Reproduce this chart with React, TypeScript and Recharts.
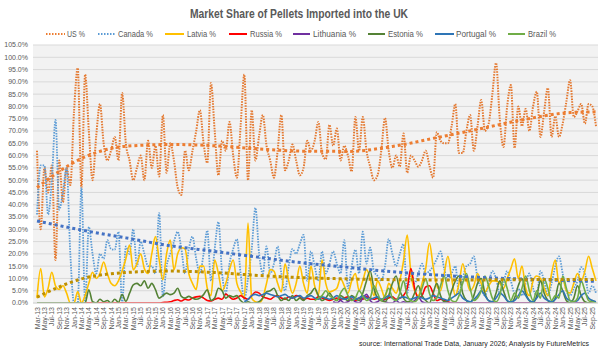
import React from 'react';
import { ComposedChart, Line, XAxis, YAxis, CartesianGrid } from 'recharts';

const _ = null;

// monthly market share (%), Mar-13 .. Oct-25
const us = [
	62, 30, 55, 45, 56, 17.5, 58, 41, 55, 48, 78, 95.6,
	47, 93, 70, 50, 68, 81, 65, 58, 62, 67.6, 58, 85.5,
	65, 58, 50, 55, 60, 50, 66, 55, 64, 51.5, 76.5, 53,
	65, 58, 47, 44, 62, 54, 62, 70, 78.5, 65, 57, 89.5,
	70, 52, 66, 62, 73.7, 60, 51, 72, 93, 50, 78.5, 58,
	68, 76.5, 64, 58, 51, 62, 76.5, 54, 58, 64.5, 58, 52,
	55, 66, 62, 66, 73.7, 61, 58.5, 72.5, 64, 71, 58, 64,
	60, 53.5, 75.7, 62, 75.7, 62, 55.5, 50, 52, 62, 75.3, 62,
	55, 60, 55.5, 69, 53, 60, 58, 55.5, 58, 62, 56, 51,
	69.5, 66, 65, 65, 72, 81, 61, 61, 70, 76.5, 62, 72,
	82.6, 70, 73, 85, 97.7, 75, 63.5, 80, 88.7, 63, 80, 72,
	79, 70, 80, 86, 67.6, 78, 87.5, 67.6, 76, 67.6, 73, 82,
	90.7, 75.7, 78, 81, 73, 81, 80, 72,
];

const canada = [
	36, 56, 56, 36, 50, 74.5, 38, 45, 55, 20, 0, 0,
	47, 0, 31, 20, 12, 20, 18, 25.6, 22, 21.7, 29, 0,
	23, 20, 30, 15, 25, 20, 15, 15, 12, 36.6, 2.7, 15,
	20, 25, 29, 22, 12, 22, 27, 18, 12, 20, 29.5, 9,
	22, 33, 12, 4, 16, 22, 26, 12, 1.5, 10, 22, 38.7,
	20, 12, 23, 12, 16, 23, 12, 5, 15, 22, 20, 24,
	27.7, 9, 21, 15, 9, 21, 12, 16, 21, 16, 12, 25.6,
	6, 15, 21.7, 12, 29, 16, 22.5, 13, 11, 9, 15, 26,
	20, 15, 20, 24, 4, 12, 8, 12, 16, 12, 13, 15,
	18, 21, 14, 9, 12, 15, 4, 10, 15, 16, 19, 10,
	6, 3, 8, 13, 10, 4, 8, 13, 9, 4, 6, 3,
	8, 12, 6, 3, 13, 9, 3, 8, 15, 19, 12, 5,
	3, 6, 9, 14.6, 12, 4, 7, 4,
];

const latvia = [
	2, 14, 2.5, 6, 12.5, 7, 5.5, 7, 4, 0, 0, 4.7,
	0, 3, 8, 12.5, 10, 12, 16.7, 12, 8, 7, 9, 13,
	18, 23.6, 13.5, 16, 20, 14, 12, 20, 27, 17.6, 9.5, 20,
	25.6, 13.5, 20, 22.5, 22, 12, 8, 5.5, 15, 15, 6, 3,
	17.5, 12, 5, 8, 13.6, 17.5, 8, 4.5, 2, 32.5, 2, 0.5,
	0, 2, 8, 13.6, 13, 8, 4.5, 16, 9, 4, 8, 15,
	8, 4, 15, 7, 3, 17.5, 8, 4.5, 5, 6, 10, 7,
	4, 9, 12, 5, 9, 13.6, 10, 3, 9, 6, 2, 8,
	6, 4, 9, 17, 27.7, 12, 5, 3, 8, 14, 24.4, 15,
	7, 5, 12, 19, 10, 3, 8, 16, 10, 5, 7, 12,
	8, 4.5, 7, 9, 9, 8, 6, 10, 14, 18, 10, 15,
	6, 3, 9, 11, 10, 6, 3, 12, 17.5, 8, 10, 5,
	4, 8, 12, 9, 13, 19, 14, 9,
];

const russia = [
	_, _, _, _, _, _, _, _, _, _, _, _,
	_, 0, 0, 0, 0, 0, 0, 0, 0, 0, 0, 0,
	0, 0, 0, 0, 0, 0, 0, 0, 0, 0, 0.2, 0.3,
	0.5, 1, 1.3, 0.8, 1.5, 1.2, 2, 2.5, 2.7, 2, 1, 0.8,
	1.5, 2, 1.5, 3.6, 2.5, 1.5, 2, 3, 2, 1.5, 3, 4.5,
	4, 2.5, 2, 1.5, 2.5, 3, 2, 1.5, 2.5, 2, 3, 2.5,
	1.5, 2, 1.5, 1.5, 2.5, 2, 1.5, 1, 1.5, 2, 1.5, 2,
	2.5, 1.5, 1, 2, 1.5, 2.5, 2, 1.5, 2, 1, 1.5, 2,
	2.5, 1.5, 2, 3, 6, 14, 6, 2, 3, 6.5, 7, 4,
	1, 1.5, 1, 0.5, 0, 0, 0, 0, 0, 0, 0, 0,
	0, 0, 0, 0, 0, 0, 0, 0, 0, 0, 0, 0,
	0, 0, 0, 0, 0, 0, 0, 0, 0, 0, 0, 0,
	0, 0, 0, 0, 0, 0, 0, 0,
];

const lithuania = [
	_, _, _, _, _, _, _, _, _, _, _, _,
	_, _, _, _, _, _, _, _, _, _, _, _,
	_, _, _, _, _, _, _, _, _, _, _, _,
	_, _, _, _, _, _, _, _, _, _, _, _,
	_, _, _, _, _, _, _, _, _, _, _, _,
	_, _, _, _, _, _, _, _, _, _, _, _,
	_, _, _, _, _, _, _, _, 0.5, 0, 1, 0,
	0.5, 1.5, 0.5, 0, 2, 3.5, 1, 0, 0.5, 1.5, 0.5, 0,
	0, 1, 0, 0.5, 0, 0, 1, 2.5, 0.5, 0, 0, 0,
	0, 0, 0, 0, 0, 0, 0, 0, 0, 0, 0, 0,
	0, 0, 0, 0, 0, 0, 0, 0, 0, 0, 0, 0,
	0, 0, 0, 0, 0, 0, 0, 0, 0, 0, 0, 0,
	0, 0, 0, 0, 0, 0, 0, 0,
];

const estonia = [
	0, 0, 0, 0, 0, 0, 0, 0, 0, 0, 0, 0,
	0, 0, 5.4, 0.5, 0, 1.5, 0.5, 1, 0, 1.5, 0.3, 3.4,
	0.7, 4, 7.4, 8, 7, 9, 6, 8, 5.4, 2, 3, 4,
	3.4, 4, 6, 2.7, 2, 2.7, 2, 1.5, 2, 3.4, 5.4, 1,
	2, 6, 5, 2, 3, 2.5, 3, 1, 0, 0.5, 0, 0,
	0.5, 2, 4.5, 5, 6, 3, 1, 2, 1, 3, 1, 2,
	1, 3, 4, 6, 3, 1, 2, 4, 2, 1, 3, 2,
	1, 3, 2, 1, 4, 9, 13, 6, 2, 1, 0.5, 3,
	8, 11, 5, 2, 0.5, 1, 4, 7, 3, 1, 0, 4,
	8, 3, 0.5, 1, 5, 9, 11, 4, 1, 0, 3, 8,
	10, 4, 1, 0.5, 4, 9, 5, 1, 0, 2, 7, 10,
	4, 1, 0, 3, 9, 4, 1, 0, 2, 8, 5, 1,
	0, 2, 7, 3, 0.5, 0, 1, 0,
];

const portugal = [
	_, _, _, _, _, _, _, _, _, _, _, _,
	_, _, _, _, _, _, _, _, _, _, _, _,
	_, _, _, _, _, _, _, _, _, _, _, _,
	_, _, _, _, _, _, _, _, _, _, _, _,
	_, _, _, _, _, _, _, _, 0.5, 1.5, 3, 3.5,
	3, 3.5, 4, 3.5, 3, 2.5, 3, 3.5, 2.5, 2, 2.5, 3,
	2, 2.5, 3, 2, 1.5, 2.5, 2, 1.5, 2, 3, 2, 1.5,
	2, 2.5, 1.5, 2, 3, 2, 1.5, 2, 2.5, 1.5, 2, 3,
	2, 1, 2, 2.5, 2, 1.5, 2, 2.5, 2, 1.5, 2, 3,
	2.5, 2, 1.5, 1, 2, 3, 4, 2, 1, 0.5, 1.5, 3,
	5, 3, 1, 0.5, 2, 4, 3, 1, 0.5, 1, 3, 5,
	3, 1, 0.5, 2, 4, 2, 1, 0.5, 1.5, 3.5, 5, 2,
	1, 0.5, 1, 3, 4, 2, 1, 0.5,
];

const brazil = [
	_, _, _, _, _, _, _, _, _, _, _, _,
	_, _, _, _, _, _, _, _, _, _, _, _,
	_, _, _, _, _, _, _, _, _, _, _, _,
	_, _, _, _, _, _, _, _, _, _, _, _,
	_, _, _, _, _, _, _, _, _, _, _, _,
	_, _, _, _, _, _, _, _, _, _, _, _,
	_, _, _, 1, 2, 3, 5, 3, 2, 1, 4, 6,
	3, 1, 2, 5, 3, 1, 2, 7, 4, 1, 3, 6,
	2, 1, 4, 9, 3, 1, 0.5, 2, 6, 10, 4, 1,
	2, 7, 11, 5, 1, 0.5, 3, 8, 12, 6, 1, 2,
	5, 11, 7, 2, 0.5, 3, 10, 6, 1, 4, 2, 6,
	11, 5, 1, 5, 2, 10, 6, 1, 3, 2, 11, 6,
	1, 0.5, 2, 9, 5, 1, 0.5, 0,
];

// trendlines at a few months
const trendMonths = ['Mar-13', 'Mar-14', 'Mar-15', 'Mar-16', 'Mar-17', 'Mar-18', 'Mar-19',
	'Mar-20', 'Mar-21', 'Mar-22', 'Mar-23', 'Mar-24', 'Mar-25', 'Oct-25'];
const usTrend = [47, 58.8, 63.8, 64.5, 64, 62.7, 61.8, 61.7, 63.7, 67.3, 71, 74.8, 77.5, 77.8];
const canadaTrend = [33.4, 29.7, 26.5, 23.3, 21, 18.6, 16.3, 14.5, 12.7, 11.4, 10.4, 9.7, 9.1, 8.8];
const latviaTrend = [2.4, 9.8, 12.4, 13, 12.4, 11.2, 10.3, 9.8, 9.5, 9.4, 9.4, 9.5, 9.6, 9.6];

const yTicks = [0, 5, 10, 15, 20, 25, 30, 35, 40, 45, 50, 55, 60, 65, 70, 75, 80, 85, 90, 95, 100, 105];

const monthNames = ['Jan', 'Feb', 'Mar', 'Apr', 'May', 'Jun', 'Jul', 'Aug', 'Sep', 'Oct', 'Nov', 'Dec'];
const months = us.map((_v, k) => {
	const t = 2 + k;
	return `${monthNames[t % 12]}-${13 + Math.floor(t / 12)}`;
});

const data = months.map((m, i) => {
	const ti = trendMonths.indexOf(m);
	return {
		m,
		us: us[i], canada: canada[i], latvia: latvia[i], russia: russia[i],
		lithuania: lithuania[i], estonia: estonia[i], portugal: portugal[i], brazil: brazil[i],
		usT: ti >= 0 ? usTrend[ti] : null,
		canadaT: ti >= 0 ? canadaTrend[ti] : null,
		latviaT: ti >= 0 ? latviaTrend[ti] : null,
	};
});

const FONT = "'Liberation Sans Narrow', 'Liberation Sans', Arial, sans-serif";

const legend = [
	{ name: 'US %', color: '#ED7D31', dash: '1.5 1.5', x1: 46, x2: 65, tx: 67, tw: 18 },
	{ name: 'Canada %', color: '#5B9BD5', dash: '1.5 1.5', x1: 98, x2: 115, tx: 118, tw: 35 },
	{ name: 'Latvia %', color: '#FFC000', dash: undefined, x1: 165, x2: 184, tx: 187, tw: 29 },
	{ name: 'Russia %', color: '#FF0000', dash: undefined, x1: 229, x2: 247, tx: 250, tw: 32 },
	{ name: 'Lithuania %', color: '#7030A0', dash: undefined, x1: 293, x2: 310, tx: 313, tw: 43 },
	{ name: 'Estonia %', color: '#548235', dash: undefined, x1: 368, x2: 385, tx: 388, tw: 35 },
	{ name: 'Portugal %', color: '#2E75B6', dash: undefined, x1: 435, x2: 454, tx: 456, tw: 40 },
	{ name: 'Brazil %', color: '#70AD47', dash: undefined, x1: 508, x2: 525, tx: 528, tw: 28 },
];

const MonthTick = ({ x, y, payload }: any) => (
	<text x={x} y={y} dy={2.5} transform={`rotate(-90 ${x} ${y})`} textAnchor="end"
		fontSize={7} fill="#595959" fontFamily={FONT}>
		{payload.value}
	</text>
);

export default function App() {
	return (
		<div style={{ position: 'absolute', left: 0, top: 0, width: 600, height: 352, background: '#fff' }}>
			<ComposedChart width={600} height={352} data={data}
				margin={{ top: 45, right: 2, bottom: 0, left: 0 }}>
				<CartesianGrid vertical={false} stroke="#D9D9D9" fill="#F2F2F2" fillOpacity={1} />
				<XAxis dataKey="m" interval={1} height={49} tickSize={0} tickMargin={4}
					axisLine={{ stroke: '#D9D9D9' }} tick={<MonthTick />} padding={{ left: 4, right: 2 }} />
				<YAxis width={33} domain={[0, 105]} ticks={yTicks} interval={0} allowDataOverflow
					tickFormatter={(v: number) => v.toFixed(1) + '%'} axisLine={false} tickSize={0} tickMargin={5}
					tick={{ fontSize: 7, fill: '#595959', fontFamily: FONT }} />
				<Line dataKey="us" type="monotone" stroke="#E4782F" strokeWidth={2} strokeDasharray="1.5 1.2" dot={false} isAnimationActive={false} />
				<Line dataKey="canada" type="monotone" stroke="#5B9BD5" strokeWidth={1.8} strokeDasharray="1.5 1.2" dot={false} isAnimationActive={false} />
				<Line dataKey="latvia" type="monotone" stroke="#FFC000" strokeWidth={1.6} dot={false} isAnimationActive={false} />
				<Line dataKey="russia" type="monotone" stroke="#FF0000" strokeWidth={1.6} dot={false} isAnimationActive={false} />
				<Line dataKey="lithuania" type="monotone" stroke="#7030A0" strokeWidth={1.6} dot={false} isAnimationActive={false} />
				<Line dataKey="estonia" type="monotone" stroke="#548235" strokeWidth={1.6} dot={false} isAnimationActive={false} />
				<Line dataKey="portugal" type="monotone" stroke="#2E75B6" strokeWidth={1.6} dot={false} isAnimationActive={false} />
				<Line dataKey="brazil" type="monotone" stroke="#70AD47" strokeWidth={1.6} dot={false} isAnimationActive={false} />
				<Line dataKey="usT" type="monotone" connectNulls stroke="#ED7D31" strokeWidth={3} strokeDasharray="3 3" dot={false} isAnimationActive={false} />
				<Line dataKey="canadaT" type="monotone" connectNulls stroke="#4472C4" strokeWidth={3} strokeDasharray="3 3" dot={false} isAnimationActive={false} />
				<Line dataKey="latviaT" type="monotone" connectNulls stroke="#BF9000" strokeWidth={3} strokeDasharray="3 3" dot={false} isAnimationActive={false} />
			</ComposedChart>
			<svg width={600} height={352} style={{ position: 'absolute', left: 0, top: 0, pointerEvents: 'none' }}>
				<text x={190} y={18} fontSize={12} fontWeight="bold" fill="#595959" fontFamily={FONT}
					textLength={218} lengthAdjust="spacingAndGlyphs">
					Market Share of Pellets Imported into the UK
				</text>
				{legend.map((l) => (
					<g key={l.name}>
						<line x1={l.x1} x2={l.x2} y1={34} y2={34} stroke={l.color} strokeWidth={2} strokeDasharray={l.dash} />
						<text x={l.tx} y={37} fontSize={9} fill="#595959" fontFamily={FONT}
							textLength={l.tw} lengthAdjust="spacingAndGlyphs">{l.name}</text>
					</g>
				))}
				<text x={589} y={346} fontSize={7} textAnchor="end" fill="#262626" fontFamily={FONT}>
					source: International Trade Data, January 2026;  Analysis by FutureMetrics
				</text>
			</svg>
		</div>
	);
}
